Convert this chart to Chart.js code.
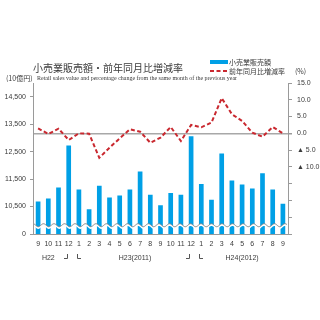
<!DOCTYPE html>
<html>
<head>
<meta charset="utf-8">
<script src="https://cdn.jsdelivr.net/npm/chart.js@4"></script>
<style>
html,body{margin:0;padding:0;background:#fff;}
#wrap{width:320px;height:320px;position:relative;}
</style>
</head>
<body>
<div id="wrap"><canvas id="c" width="320" height="320"></canvas></div>
<script>
const months = ['9','10','11','12','1','2','3','4','5','6','7','8','9','10','11','12','1','2','3','4','5','6','7','8','9'];
const salesValues = [10680,10790,11190,12720,11120,10400,11260,10830,10900,11120,11780,10930,10550,10990,10930,13060,11320,10750,12430,11450,11300,11160,11710,11120,10600];
const changeValues = [1.5,-0.2,1.4,-2.0,0.0,-0.1,-7.3,-4.3,-1.5,1.2,0.5,-2.8,-1.3,1.9,-2.3,2.5,1.8,3.2,10.5,5.7,3.7,0.2,-1.0,1.9,0.0];
const leftTicks = [9500,10500,11500,12500,13500,14500];
const rightTicks = [-30,-25,-20,-15,-10,-5,0,5,10,15];
const yearGroups = [
  {label:'H22', center:1},
  {label:'H23(2011)', center:9.5},
  {label:'H24(2012)', center:20}
];
const yearBreaks = [3,15];
const titleText = '小売業販売額・前年同月比増減率';
const subtitleText = 'Retail sales value and percentage change from the same month of the previous year';
const unitLeft = '(10億円)';
const unitRight = '(%)';
const seriesNames = ['小売業販売額','前年同月比増減率'];

const BLUE = '#00a0e6';
const RED = '#c9282f';
const TXT = '#3a3a3a';
const AX = '#9a9a9a';
const CJK = '"Noto Sans CJK JP", sans-serif';
const SANS = '"Liberation Sans", Arial, sans-serif';

const extraPlugin = {
  id:'extra',
  afterDatasetsDraw(chart){
    const ctx = chart.ctx, ca = chart.chartArea, ys = chart.scales.y;
    // axis-break band
    const yc = ys.getPixelForValue(9820);
    const amp = 1.5, per = 10.5;
    const wave = (off) => {
      const pts = [];
      for (let x = ca.left + 1; x <= ca.right - 1; x += 0.5) {
        pts.push([x, yc + off - amp*Math.cos((x-ca.left)/per*2*Math.PI)]);
      }
      return pts;
    };
    ctx.save();
    const top = wave(0), bot = wave(2.2).reverse();
    ctx.beginPath();
    top.concat(bot).forEach((p,i)=> i? ctx.lineTo(p[0],p[1]) : ctx.moveTo(p[0],p[1]));
    ctx.closePath();
    ctx.fillStyle = '#fff';
    ctx.fill();
    ctx.strokeStyle = '#7a7a7a';
    ctx.lineWidth = 0.9;
    ctx.beginPath();
    top.forEach((p,i)=> i? ctx.lineTo(p[0],p[1]) : ctx.moveTo(p[0],p[1]));
    ctx.stroke();
    ctx.restore();
  },
  afterDraw(chart){
    const ctx = chart.ctx, xs = chart.scales.x;
    ctx.save();
    ctx.fillStyle = TXT;
    ctx.textBaseline = 'middle';
    ctx.textAlign = 'left';
    ctx.font = '10px ' + CJK;
    ctx.fillText(titleText, 33, 68);
    ctx.font = '6px "Liberation Serif", serif';
    ctx.fillText(subtitleText, 37, 78);
    ctx.font = '7px ' + CJK;
    ctx.fillText(unitLeft, 6, 78);
    ctx.fillText(unitRight, 295, 71);
    // legend
    ctx.fillStyle = BLUE;
    ctx.fillRect(210, 60, 18, 4);
    ctx.strokeStyle = RED;
    ctx.lineWidth = 2;
    ctx.setLineDash([4,2.5]);
    ctx.beginPath(); ctx.moveTo(210, 71); ctx.lineTo(228, 71); ctx.stroke();
    ctx.setLineDash([]);
    ctx.fillStyle = TXT;
    ctx.font = '7px ' + CJK;
    ctx.fillText(seriesNames[0], 229, 62);
    ctx.fillText(seriesNames[1], 229, 71);
    // year groups
    ctx.textAlign = 'center';
    ctx.font = '7px ' + SANS;
    yearGroups.forEach(g=>{
      ctx.fillText(g.label, xs.getPixelForValue(g.center), 258);
    });
    ctx.strokeStyle = '#555';
    ctx.lineWidth = 1;
    yearBreaks.forEach(i=>{
      const a = Math.round(xs.getPixelForValue(i)) - 1.5;
      const b = Math.round(xs.getPixelForValue(i+1)) - 1.5;
      ctx.beginPath(); ctx.moveTo(a, 254); ctx.lineTo(a, 258.5); ctx.lineTo(a-3.5, 258.5); ctx.stroke();
      ctx.beginPath(); ctx.moveTo(b, 254); ctx.lineTo(b, 258.5); ctx.lineTo(b+3.5, 258.5); ctx.stroke();
    });
    ctx.restore();
  }
};

new Chart(document.getElementById('c'), {
  type:'bar',
  data:{
    labels: months,
    datasets:[
      {type:'line', label:seriesNames[1], data:changeValues, yAxisID:'y2', borderColor:RED, borderWidth:2, borderDash:[4,2.5], pointRadius:0, tension:0, fill:false, order:0},
      {type:'bar', label:seriesNames[0], data:salesValues, yAxisID:'y', backgroundColor:BLUE, borderWidth:0, barPercentage:0.46, categoryPercentage:1, order:1}
    ]
  },
  options:{
    responsive:false,
    animation:false,
    events:[],
    layout:{padding:{top:83, left:0, right:0, bottom:0}},
    plugins:{legend:{display:false}, title:{display:false}, tooltip:{enabled:false}},
    scales:{
      x:{
        grid:{display:false, drawTicks:false},
        border:{color:AX, width:1},
        ticks:{color:TXT, font:{size:7, family:SANS}, padding:6, maxRotation:0, autoSkip:false},
        afterFit(s){ s.height = 86; }
      },
      y:{
        position:'left',
        min:9500, max:15000,
        afterBuildTicks(s){ s.ticks = leftTicks.map(v=>({value:v})); },
        afterFit(s){ s.width = 33; },
        grid:{drawOnChartArea:false, drawTicks:true, tickLength:3, tickColor:AX},
        border:{color:AX, width:1},
        ticks:{color:TXT, font:{size:7, family:SANS}, padding:4,
          callback(v){ return v===9500 ? '0' : v.toLocaleString('en-US'); }}
      },
      y2:{
        position:'right',
        min:-30, max:15,
        afterBuildTicks(s){ s.ticks = rightTicks.map(v=>({value:v})); },
        afterFit(s){ s.width = 32; },
        grid:{drawOnChartArea:true, drawTicks:true, tickLength:4, tickColor:AX,
          color(c){ return c.tick && c.tick.value===0 ? '#a8a8a8' : 'rgba(0,0,0,0)'; },
          lineWidth(c){ return c.tick && c.tick.value===0 ? 1.5 : 1; }},
        border:{color:AX, width:1},
        ticks:{color:TXT, font:{size:7, family:SANS}, padding:5,
          callback(v){
            if (v >= 0) return v.toFixed(1);
            if (v >= -10) return '▲ ' + Math.abs(v).toFixed(1);
            return '';
          }}
      }
    }
  },
  plugins:[extraPlugin]
});
</script>
</body>
</html>
